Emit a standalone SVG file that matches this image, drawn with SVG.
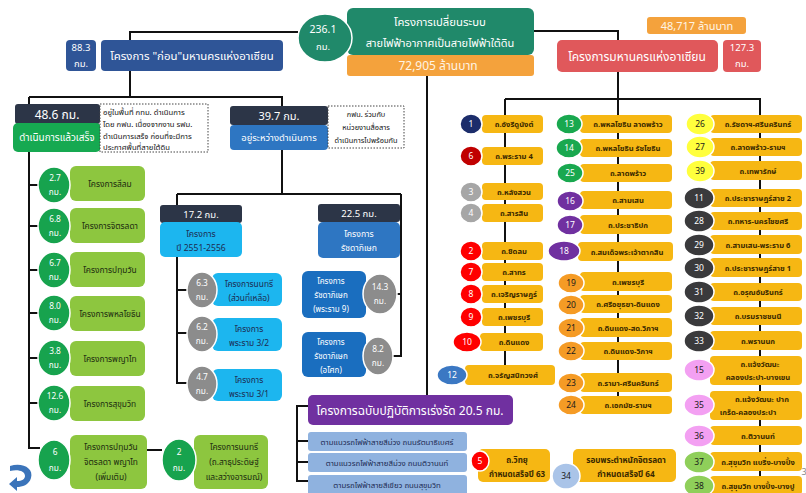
<svg xmlns="http://www.w3.org/2000/svg" width="806" height="493" viewBox="0 0 806 493">
<style>
text{font-family:"Noto Sans Thai","Noto Sans Thai UI",Tahoma,"Leelawadee UI",Garuda,Loma,"Noto Sans",sans-serif;text-anchor:middle}
.st{text-anchor:start}
.w{fill:#fff}
.k{fill:#1b1b1b}
.n{fill:#1d2b52}
.y{fill:#f6b713}
.yt{fill:#3a2900;font-weight:bold;font-size:7.6px}
.ln{stroke:#111;stroke-width:2;fill:none}
.dot{fill:#fff;stroke:#444;stroke-width:1;stroke-dasharray:1.5 1.5}
.ring{stroke:#fff;stroke-width:1.5}
.gc{fill:#17a34e}
.lg{fill:#8dc63f}
.gr{fill:#8c8c8c}
.cy{fill:#1cb6ef}
.slate{fill:#2c3547}
.gl{font-size:8.4px;fill:#1b2b10}
.num{font-size:8.5px}
.km{font-size:8.3px;fill:#fff}
</style>

<!-- connectors -->
<g id="connectors" class="ln">
<path d="M298,32H130V40"/>
<path d="M533,31H618V40"/>
<path d="M130,71V97M29,97H282V106M29,97V448H40"/>
<path d="M29,185H40M29,226H40M29,270H40M29,313H40M29,358H40M29,403H40"/>
<path d="M147,450H162"/>
<path d="M282,150V194M177,194H401M177,194V383H190M177,290H190M177,333H190M401,194V356H392M396,294H401"/>
<path d="M427,76V395"/>
<path d="M308,406H297V481H308M297,441H308M297,462H308"/>
<path d="M618,72V405"/>
<path d="M505,99H760V486M505,99V366"/>
</g>

<!-- top: whole programme -->
<g id="program">
<rect x="347" y="8" width="187" height="47" rx="6" fill="#20896a"/>
<text class="w" x="440" y="26" font-size="11.3">โครงการเปลี่ยนระบบ</text>
<text class="w" x="440" y="47" font-size="11">สายไฟฟ้าอากาศเป็นสายไฟฟ้าใต้ดิน</text>
<rect x="347" y="55" width="187" height="21" rx="3" fill="#f4a23c"/>
<text x="438" y="70" font-size="12" fill="#fff4e4">72,905 ล้านบาท</text>
<ellipse cx="325" cy="38" rx="27" ry="24" fill="#20896a" class="ring"/>
<text class="w" x="323" y="33" font-size="10.5">236.1</text>
<text class="w" x="323" y="50" font-size="9.5">กม.</text>
</g>

<g id="before-asean">
<rect x="66" y="40" width="30" height="31" rx="4" fill="#2f5597"/>
<text class="w" x="81" y="51" font-size="9.5">88.3</text>
<text class="w" x="81" y="67" font-size="9.5">กม.</text>
<rect x="101" y="40" width="182" height="31" rx="4" fill="#2f5597"/>
<text class="w" x="192" y="60" font-size="11.4">โครงการ "ก่อน"มหานครแห่งอาเซียน</text>
</g>

<g id="asean">
<rect x="647" y="17" width="99" height="17" rx="3" fill="#f4a23c"/>
<text x="697" y="30" font-size="11" fill="#fff4e4">48,717 ล้านบาท</text>
<rect x="557" y="40" width="161" height="32" rx="5" fill="#e0585b"/>
<text class="w" x="637" y="61" font-size="12">โครงการมหานครแห่งอาเซียน</text>
<rect x="723" y="40" width="38" height="32" rx="4" fill="#e0585b"/>
<text class="w" x="742" y="51" font-size="9.5">127.3</text>
<text class="w" x="742" y="67" font-size="9.5">กม.</text>
</g>

<!-- completed -->
<g id="done">
<rect x="15" y="104" width="85" height="20" rx="3" class="slate"/>
<text class="w" x="57" y="119" font-size="12">48.6 กม.</text>
<rect x="13" y="123" width="88" height="29" rx="5" fill="#16a951"/>
<text class="w" x="57" y="141" font-size="10">ดำเนินการแล้วเสร็จ</text>
<rect x="100" y="104" width="108" height="48" class="dot"/>
<g font-size="7.7" fill="#111">
<text class="st" x="103" y="115">อยู่ในพื้นที่ กทม. ดำเนินการ</text>
<text class="st" x="103" y="127">โดย กฟน. เนื่องจากงาน รฟม.</text>
<text class="st" x="103" y="139">ดำเนินการเสร็จ ก่อนที่จะมีการ</text>
<text class="st" x="103" y="150">ประกาศพื้นที่สายใต้ดิน</text>
</g>
</g>

<g id="silom">
<rect x="70" y="166" width="75" height="35" rx="6" class="lg"/>
<text class="gl" x="110" y="187">โครงการสีลม</text>
<ellipse cx="54" cy="185" rx="16" ry="18" class="gc ring"/>
<text class="km" x="55" y="181">2.7</text>
<text class="km" x="55" y="195">กม.</text>
</g>
<g id="chitlada">
<rect x="70" y="208" width="75" height="35" rx="6" class="lg"/>
<text class="gl" x="110" y="229">โครงการจิตรลดา</text>
<ellipse cx="54" cy="226" rx="16" ry="18" class="gc ring"/>
<text class="km" x="55" y="222">6.8</text>
<text class="km" x="55" y="236">กม.</text>
</g>
<g id="pathumwan">
<rect x="70" y="252" width="75" height="35" rx="6" class="lg"/>
<text class="gl" x="110" y="273">โครงการปทุมวัน</text>
<ellipse cx="54" cy="270" rx="16" ry="18" class="gc ring"/>
<text class="km" x="55" y="266">6.7</text>
<text class="km" x="55" y="280">กม.</text>
</g>
<g id="phahon">
<rect x="70" y="296" width="75" height="35" rx="6" class="lg"/>
<text class="gl" x="110" y="317">โครงการพหลโยธิน</text>
<ellipse cx="54" cy="313" rx="16" ry="18" class="gc ring"/>
<text class="km" x="55" y="309">8.0</text>
<text class="km" x="55" y="323">กม.</text>
</g>
<g id="phayathai">
<rect x="70" y="341" width="75" height="35" rx="6" class="lg"/>
<text class="gl" x="110" y="362">โครงการพญาไท</text>
<ellipse cx="54" cy="358" rx="16" ry="18" class="gc ring"/>
<text class="km" x="55" y="354">3.8</text>
<text class="km" x="55" y="368">กม.</text>
</g>
<g id="sukhumvit">
<rect x="70" y="386" width="75" height="35" rx="6" class="lg"/>
<text class="gl" x="110" y="407">โครงการสุขุมวิท</text>
<ellipse cx="54" cy="403" rx="16" ry="18" class="gc ring"/>
<text class="km" x="55" y="399">12.6</text>
<text class="km" x="55" y="413">กม.</text>
</g>
<g id="extra">
<rect x="70" y="435" width="77" height="54" rx="6" class="lg"/>
<text class="gl" x="111" y="450">โครงการปทุมวัน</text>
<text class="gl" x="111" y="465">จิตรลดา พญาไท</text>
<text class="gl" x="111" y="480">(เพิ่มเติม)</text>
<ellipse cx="54" cy="460" rx="16" ry="20" class="gc ring"/>
<text class="km" x="55" y="455">6</text>
<text class="km" x="55" y="471">กม.</text>
</g>
<g id="nonsi-2">
<rect x="194" y="435" width="74" height="54" rx="6" class="lg"/>
<text class="gl" x="234" y="450">โครงการนนทรี</text>
<text class="gl" x="234" y="465">(ถ.สาธุประดิษฐ์</text>
<text class="gl" x="234" y="480">และสว่างอารมณ์)</text>
<ellipse cx="179" cy="460" rx="17" ry="21" class="gc ring"/>
<text class="km" x="179" y="455">2</text>
<text class="km" x="179" y="471">กม.</text>
</g>

<!-- in progress -->
<g id="in-progress">
<rect x="230" y="106" width="98" height="19" rx="3" class="slate"/>
<text class="w" x="279" y="120" font-size="11">39.7 กม.</text>
<rect x="230" y="125" width="98" height="25" rx="4" fill="#2e76c2"/>
<text class="w" x="279" y="141" font-size="9.4">อยู่ระหว่างดำเนินการ</text>
<rect x="328" y="106" width="76" height="42" class="dot"/>
<g font-size="7.4" fill="#111">
<text x="366" y="117">กฟน. ร่วมกับ</text>
<text x="366" y="130">หน่วยงานสื่อสาร</text>
<text x="366" y="143">ดำเนินการไปพร้อมกัน</text>
</g>
</g>

<g id="y2551">
<rect x="160" y="205" width="82" height="18" rx="3" class="slate"/>
<text class="w" x="201" y="218" font-size="9.5">17.2 กม.</text>
<rect x="160" y="222" width="82" height="35" rx="5" class="cy"/>
<text class="n" x="201" y="237" font-size="8.6">โครงการ</text>
<text class="n" x="201" y="251" font-size="8.6">ปี 2551-2556</text>
</g>
<g id="nonsi">
<rect x="212" y="273" width="70" height="33" rx="6" class="cy"/>
<text class="n" x="249" y="287" font-size="8.4">โครงการนนทรี</text>
<text class="n" x="249" y="301" font-size="8.4">(ส่วนที่เหลือ)</text>
<ellipse cx="202" cy="290" rx="15" ry="18" class="gr ring"/>
<text class="km" x="202" y="286">6.3</text>
<text class="km" x="202" y="300">กม.</text>
</g>
<g id="rama3-2">
<rect x="212" y="318" width="70" height="33" rx="6" class="cy"/>
<text class="n" x="249" y="332" font-size="8.4">โครงการ</text>
<text class="n" x="249" y="346" font-size="8.4">พระราม 3/2</text>
<ellipse cx="202" cy="334" rx="15" ry="18" class="gr ring"/>
<text class="km" x="202" y="330">6.2</text>
<text class="km" x="202" y="344">กม.</text>
</g>
<g id="rama3-1">
<rect x="212" y="369" width="70" height="32" rx="6" class="cy"/>
<text class="n" x="249" y="383" font-size="8.4">โครงการ</text>
<text class="n" x="249" y="397" font-size="8.4">พระราม 3/1</text>
<ellipse cx="202" cy="384" rx="15" ry="18" class="gr ring"/>
<text class="km" x="202" y="380">4.7</text>
<text class="km" x="202" y="394">กม.</text>
</g>

<g id="ratchada">
<rect x="318" y="204" width="82" height="18" rx="3" class="slate"/>
<text class="w" x="359" y="217" font-size="9.5">22.5 กม.</text>
<rect x="318" y="222" width="82" height="36" rx="5" fill="#2e76c2"/>
<text class="w" x="359" y="237" font-size="8.6">โครงการ</text>
<text class="w" x="359" y="251" font-size="8.6">รัชดาภิเษก</text>
</g>
<g id="ratchada-rama9">
<rect x="302" y="271" width="64" height="47" rx="6" fill="#1a6ebf"/>
<text class="w" x="331" y="284" font-size="8">โครงการ</text>
<text class="w" x="331" y="298" font-size="8">รัชดาภิเษก</text>
<text class="w" x="331" y="312" font-size="8">(พระราม 9)</text>
<ellipse cx="380" cy="294" rx="17" ry="20" class="gr ring"/>
<text class="km" x="380" y="290">14.3</text>
<text class="km" x="380" y="304">กม.</text>
</g>
<g id="ratchada-asok">
<rect x="302" y="332" width="64" height="45" rx="6" fill="#1a6ebf"/>
<text class="w" x="331" y="345" font-size="8">โครงการ</text>
<text class="w" x="331" y="359" font-size="8">รัชดาภิเษก</text>
<text class="w" x="331" y="373" font-size="8">(อโศก)</text>
<ellipse cx="378" cy="356" rx="15" ry="19" class="gr ring"/>
<text class="km" x="378" y="352">8.2</text>
<text class="km" x="378" y="366">กม.</text>
</g>

<!-- accelerated plan -->
<g id="accelerated">
<rect x="308" y="395" width="205" height="30" rx="5" fill="#7030a0"/>
<text class="w" x="410" y="415" font-size="12">โครงการฉบับปฏิบัติการเร่งรัด 20.5 กม.</text>
</g>
<g id="acc-1"><rect x="308" y="432" width="159" height="19" rx="3" fill="#8fb2df"/><text class="n" x="387" y="445" font-size="7.8">ตามแนวรถไฟฟ้าสายสีม่วง ถนนรัตนาธิเบศร์</text></g>
<g id="acc-2"><rect x="308" y="453" width="159" height="19" rx="3" fill="#8fb2df"/><text class="n" x="387" y="466" font-size="7.8">ตามแนวรถไฟฟ้าสายสีม่วง ถนนติวานนท์</text></g>
<g id="acc-3"><rect x="308" y="475" width="159" height="20" rx="3" fill="#8fb2df"/><text class="n" x="387" y="488" font-size="7.8">ตามรถไฟฟ้าสายสีเขียว ถนนสุขุมวิท</text></g>

<!-- ASEAN metropolis roads, column 1 -->
<g id="r1"><rect x="482" y="115" width="61" height="18" rx="4" class="y"/><text class="yt" x="514" y="127">ถ.อังรีดูนังต์</text><ellipse cx="471" cy="124" rx="11" ry="10" fill="#1c2d6b" class="ring"/><text class="w num" x="471" y="127">1</text></g>
<g id="r6"><rect x="482" y="147" width="61" height="18" rx="4" class="y"/><text class="yt" x="514" y="159">ถ.พระราม 4</text><ellipse cx="471" cy="156" rx="11" ry="10" fill="#c00000" class="ring"/><text class="w num" x="471" y="159">6</text></g>
<g id="r3"><rect x="482" y="183" width="61" height="17" rx="4" class="y"/><text class="yt" x="514" y="195">ถ.หลังสวน</text><ellipse cx="471" cy="192" rx="11" ry="10" fill="#a6a6a6" class="ring"/><text class="w num" x="471" y="195">3</text></g>
<g id="r4"><rect x="482" y="204" width="61" height="18" rx="4" class="y"/><text class="yt" x="514" y="216">ถ.สารสิน</text><ellipse cx="471" cy="213" rx="11" ry="10" fill="#a6a6a6" class="ring"/><text class="w num" x="471" y="216">4</text></g>
<g id="r2"><rect x="482" y="242" width="61" height="18" rx="4" class="y"/><text class="yt" x="514" y="254">ถ.ชิดลม</text><ellipse cx="471" cy="251" rx="11" ry="10" fill="#ff0000" class="ring"/><text class="w num" x="471" y="254">2</text></g>
<g id="r7"><rect x="482" y="263" width="61" height="18" rx="4" class="y"/><text class="yt" x="514" y="275">ถ.สาทร</text><ellipse cx="471" cy="272" rx="11" ry="10" fill="#ff0000" class="ring"/><text class="w num" x="471" y="275">7</text></g>
<g id="r8"><rect x="482" y="285" width="61" height="18" rx="4" class="y"/><text class="yt" x="514" y="297">ถ.เจริญราษฎร์</text><ellipse cx="471" cy="294" rx="11" ry="10" fill="#ff0000" class="ring"/><text class="w num" x="471" y="297">8</text></g>
<g id="r9"><rect x="482" y="308" width="61" height="18" rx="4" class="y"/><text class="yt" x="514" y="320">ถ.เพชรบุรี</text><ellipse cx="471" cy="317" rx="11" ry="10" fill="#ff0000" class="ring"/><text class="w num" x="471" y="320">9</text></g>
<g id="r10"><rect x="480" y="333" width="63" height="18" rx="4" class="y"/><text class="yt" x="514" y="345">ถ.ดินแดง</text><ellipse cx="467" cy="342" rx="14" ry="10" fill="#ff0000" class="ring"/><text class="w num" x="467" y="345">10</text></g>
<g id="r12"><rect x="465" y="365" width="90" height="20" rx="4" class="y"/><text class="yt" x="513" y="378">ถ.จรัญสนิทวงศ์</text><ellipse cx="452" cy="375" rx="15" ry="10" fill="#3b78c3" class="ring"/><text class="w num" x="452" y="378">12</text></g>

<!-- column 2 -->
<g id="r13"><rect x="580" y="115" width="92" height="18" rx="4" class="y"/><text class="yt" x="628" y="127">ถ.พหลโยธิน ลาดพร้าว</text><ellipse cx="569" cy="124" rx="13" ry="10" fill="#19a84f" class="ring"/><text class="w num" x="569" y="127">13</text></g>
<g id="r14"><rect x="580" y="139" width="92" height="18" rx="4" class="y"/><text class="yt" x="628" y="151">ถ.พหลโยธิน รัชโยธิน</text><ellipse cx="569" cy="148" rx="13" ry="10" fill="#19a84f" class="ring"/><text class="w num" x="569" y="151">14</text></g>
<g id="r25"><rect x="580" y="164" width="92" height="18" rx="4" class="y"/><text class="yt" x="628" y="176">ถ.ลาดพร้าว</text><ellipse cx="570" cy="173" rx="13" ry="10" fill="#19a84f" class="ring"/><text class="w num" x="570" y="176">25</text></g>
<g id="r16"><rect x="580" y="191" width="92" height="18" rx="4" class="y"/><text class="yt" x="628" y="203">ถ.สามเสน</text><ellipse cx="570" cy="201" rx="13" ry="10" fill="#7030a0" class="ring"/><text class="w num" x="570" y="204">16</text></g>
<g id="r17"><rect x="580" y="215" width="92" height="19" rx="4" class="y"/><text class="yt" x="628" y="228">ถ.ประชาธิปก</text><ellipse cx="570" cy="225" rx="13" ry="10" fill="#7030a0" class="ring"/><text class="w num" x="570" y="228">17</text></g>
<g id="r18"><rect x="578" y="242" width="95" height="19" rx="4" class="y"/><text class="yt" x="627" y="255">ถ.สมเด็จพระเจ้าตากสิน</text><ellipse cx="564" cy="251" rx="16" ry="10" fill="#7030a0" class="ring"/><text class="w num" x="564" y="254">18</text></g>
<g id="r19"><rect x="580" y="272" width="92" height="19" rx="4" class="y"/><text class="yt" x="628" y="285">ถ.เพชรบุรี</text><ellipse cx="571" cy="283" rx="13" ry="10" fill="#f59b25" class="ring"/><text class="k num" x="571" y="286">19</text></g>
<g id="r20"><rect x="580" y="295" width="92" height="18" rx="4" class="y"/><text class="yt" x="628" y="307">ถ.ศรีอยุธยา-ดินแดง</text><ellipse cx="571" cy="305" rx="13" ry="10" fill="#f59b25" class="ring"/><text class="k num" x="571" y="308">20</text></g>
<g id="r21"><rect x="580" y="318" width="92" height="19" rx="4" class="y"/><text class="yt" x="628" y="331">ถ.ดินแดง-สด.วิภาฯ</text><ellipse cx="571" cy="328" rx="13" ry="10" fill="#f59b25" class="ring"/><text class="k num" x="571" y="331">21</text></g>
<g id="r22"><rect x="580" y="342" width="92" height="18" rx="4" class="y"/><text class="yt" x="628" y="354">ถ.ดินแดง-วิภาฯ</text><ellipse cx="571" cy="351" rx="13" ry="10" fill="#f59b25" class="ring"/><text class="k num" x="571" y="354">22</text></g>
<g id="r23"><rect x="580" y="373" width="92" height="19" rx="4" class="y"/><text class="yt" x="628" y="386">ถ.รามา-ศรีนครินทร์</text><ellipse cx="571" cy="383" rx="13" ry="10" fill="#f59b25" class="ring"/><text class="k num" x="571" y="386">23</text></g>
<g id="r24"><rect x="580" y="396" width="92" height="18" rx="4" class="y"/><text class="yt" x="628" y="408">ถ.เอกมัย-รามฯ</text><ellipse cx="571" cy="405" rx="13" ry="10" fill="#f59b25" class="ring"/><text class="k num" x="571" y="408">24</text></g>

<!-- column 3 -->
<g id="r26"><rect x="710" y="115" width="92" height="18" rx="4" class="y"/><text class="yt" x="758" y="127">ถ.รัชดาฯ-ศรีนครินทร์</text><ellipse cx="700" cy="124" rx="14" ry="11" fill="#ffff3d" class="ring"/><text class="k num" x="700" y="127">26</text></g>
<g id="r27"><rect x="710" y="138" width="92" height="18" rx="4" class="y"/><text class="yt" x="758" y="150">ถ.ลาดพร้าว-รามฯ</text><ellipse cx="700" cy="147" rx="14" ry="11" fill="#ffff3d" class="ring"/><text class="k num" x="700" y="150">27</text></g>
<g id="r39"><rect x="710" y="161" width="92" height="19" rx="4" class="y"/><text class="yt" x="758" y="174">ถ.เทพารักษ์</text><ellipse cx="700" cy="171" rx="14" ry="11" fill="#ffff3d" class="ring"/><text class="k num" x="700" y="174">39</text></g>
<g id="r11"><rect x="710" y="189" width="92" height="18" rx="4" class="y"/><text class="yt" x="758" y="201">ถ.ประชาราษฎร์สาย 2</text><ellipse cx="699" cy="198" rx="15" ry="11" fill="#3a3a3c" class="ring"/><text class="w num" x="699" y="201">11</text></g>
<g id="r28"><rect x="710" y="212" width="92" height="18" rx="4" class="y"/><text class="yt" x="758" y="224">ถ.ทหาร-นครไชยศรี</text><ellipse cx="699" cy="221" rx="15" ry="11" fill="#3a3a3c" class="ring"/><text class="w num" x="699" y="224">28</text></g>
<g id="r29"><rect x="710" y="235" width="92" height="19" rx="4" class="y"/><text class="yt" x="758" y="248">ถ.สามเสน-พระราม 6</text><ellipse cx="699" cy="245" rx="15" ry="11" fill="#3a3a3c" class="ring"/><text class="w num" x="699" y="248">29</text></g>
<g id="r30"><rect x="710" y="258" width="92" height="19" rx="4" class="y"/><text class="yt" x="758" y="271">ถ.ประชาราษฎร์สาย 1</text><ellipse cx="699" cy="268" rx="15" ry="11" fill="#3a3a3c" class="ring"/><text class="w num" x="699" y="271">30</text></g>
<g id="r31"><rect x="710" y="283" width="92" height="18" rx="4" class="y"/><text class="yt" x="758" y="295">ถ.อรุณอัมรินทร์</text><ellipse cx="699" cy="292" rx="15" ry="11" fill="#3a3a3c" class="ring"/><text class="w num" x="699" y="295">31</text></g>
<g id="r32"><rect x="710" y="307" width="92" height="18" rx="4" class="y"/><text class="yt" x="758" y="319">ถ.บรมราชชนนี</text><ellipse cx="699" cy="316" rx="15" ry="11" fill="#3a3a3c" class="ring"/><text class="w num" x="699" y="319">32</text></g>
<g id="r33"><rect x="710" y="331" width="92" height="19" rx="4" class="y"/><text class="yt" x="758" y="344">ถ.พรานนก</text><ellipse cx="699" cy="341" rx="15" ry="11" fill="#3a3a3c" class="ring"/><text class="w num" x="699" y="344">33</text></g>
<g id="r15"><rect x="710" y="356" width="92" height="29" rx="4" class="y"/><text class="yt" x="760" y="367">ถ.แจ้งวัฒนะ</text><text class="yt" x="758" y="380">คลองประปา-บางเขน</text><ellipse cx="699" cy="370" rx="15" ry="11" fill="#f3a0f2" class="ring"/><text class="k num" x="699" y="373">15</text></g>
<g id="r35"><rect x="710" y="391" width="92" height="29" rx="4" class="y"/><text class="yt" x="762" y="402">ถ.แจ้งวัฒนะ ปาก</text><text class="yt" x="748" y="415">เกร็ด-คลองประปา</text><ellipse cx="699" cy="405" rx="15" ry="11" fill="#f3a0f2" class="ring"/><text class="k num" x="699" y="408">35</text></g>
<g id="r36"><rect x="710" y="426" width="92" height="19" rx="4" class="y"/><text class="yt" x="758" y="439">ถ.ติวานนท์</text><ellipse cx="699" cy="436" rx="15" ry="11" fill="#f3a0f2" class="ring"/><text class="k num" x="699" y="439">36</text></g>
<g id="r37"><rect x="710" y="452" width="92" height="19" rx="4" class="y"/><text class="yt" x="758" y="465">ถ.สุขุมวิท แบริ่ง-บางปิ้ง</text><ellipse cx="699" cy="462" rx="15" ry="11" fill="#8fcf5a" class="ring"/><text class="k num" x="699" y="465">37</text></g>
<g id="r38"><rect x="710" y="476" width="92" height="19" rx="4" class="y"/><text class="yt" x="758" y="489">ถ.สุขุมวิท บางปิ้ง-บางปู</text><ellipse cx="699" cy="486" rx="15" ry="11" fill="#8fcf5a" class="ring"/><text class="k num" x="699" y="489">38</text></g>

<!-- scheduled separately -->
<g id="r5"><rect x="478" y="449" width="72" height="33" rx="5" class="y"/><text class="yt" x="517" y="463" style="font-size:8px">ถ.วิทยุ</text><text class="yt" x="517" y="477" style="font-size:8px">กำหนดเสร็จปี 63</text><ellipse cx="480" cy="461" rx="9" ry="10" fill="#ff0000" class="ring"/><text class="w num" x="480" y="464">5</text></g>
<g id="r34"><rect x="573" y="449" width="103" height="33" rx="5" class="y"/><text class="yt" x="626" y="463" style="font-size:8.2px">รอบพระตำหนักจิตรลดา</text><text class="yt" x="626" y="477" style="font-size:8.2px">กำหนดเสร็จปี 64</text><ellipse cx="566" cy="476" rx="14" ry="13" fill="#aac4e8" class="ring"/><text class="k num" x="566" y="479">34</text></g>

<!-- back icon and page number -->
<path d="M10,466 C22,462 34,468 31,478 C29,485 22,487 17,487 L17,491 L9,484 L17,477 L17,481 C22,481 25,479 25,476 C25,471 18,469 10,471 Z" fill="#3b74ba"/>
<text x="804" y="475" font-size="9" fill="#888">3</text>
</svg>
